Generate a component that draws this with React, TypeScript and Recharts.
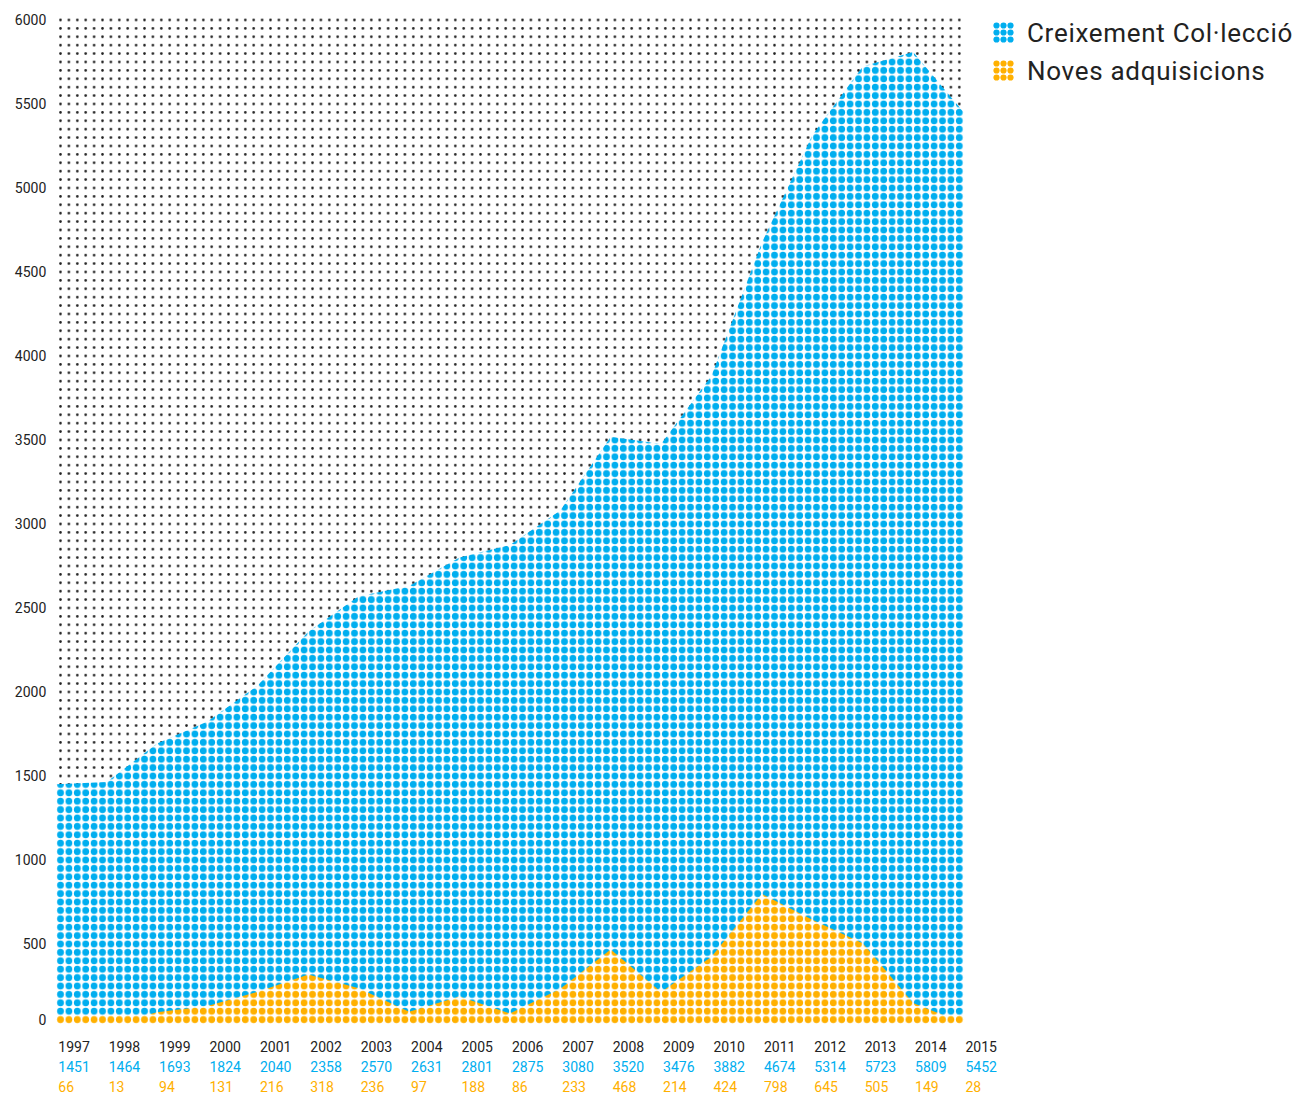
import React from "react"
import {
  AreaChart, Area, XAxis, YAxis, CartesianGrid, Legend, ReferenceArea,
} from "recharts"

const YEARS = [1997, 1998, 1999, 2000, 2001, 2002, 2003, 2004, 2005, 2006, 2007, 2008, 2009, 2010, 2011, 2012, 2013, 2014, 2015]
const COLLECTION = [1451, 1464, 1693, 1824, 2040, 2358, 2570, 2631, 2801, 2875, 3080, 3520, 3476, 3882, 4674, 5314, 5723, 5809, 5452]
const ACQUISITIONS = [66, 13, 94, 131, 216, 318, 236, 97, 188, 86, 233, 468, 214, 424, 798, 645, 505, 149, 28]
const Y_TICKS = [0, 500, 1000, 1500, 2000, 2500, 3000, 3500, 4000, 4500, 5000, 5500, 6000]

const data = YEARS.map((year, i) => ({
  year,
  total: COLLECTION[i],
  noves: ACQUISITIONS[i],
}))

const BLUE = "#00aeef"
const ORANGE = "#ffb000"
const INK = "#222222"
const FONT = "Roboto, 'Noto Sans', sans-serif"

// dot grid: one dot = 50 units, square cells
const UNIT = 50
const CELL = 8.4
const PLOT_LEFT = 56.3
const PLOT_W = CELL * 108
const PLOT_TOP = 20 - CELL / 2
const CHART_W = 1298
const CHART_H = 1094
const PLOT_H = CELL * 120
const X_AXIS_H = CHART_H - PLOT_TOP - PLOT_H

function YearTick(props: any) {
  const { x, y, payload } = props
  const i = YEARS.indexOf(payload.value)
  if (i < 0) return null
  return (
    <g>
      <text x={x + 2} y={y + 28} fill={INK} fontSize={14} fontFamily={FONT}>{payload.value}</text>
      <text x={x + 2} y={y + 48} fill={BLUE} fontSize={14} fontFamily={FONT}>{COLLECTION[i]}</text>
      <text x={x + 2} y={y + 68} fill={ORANGE} fontSize={14} fontFamily={FONT}>{ACQUISITIONS[i]}</text>
    </g>
  )
}

function ValueTick(props: any) {
  const { x, y, payload } = props
  // the zero label sits on the bottom row of dots
  const dy = payload.value === 0 ? -8 : 0
  return (
    <text x={x} y={y + dy} dy="0.355em" textAnchor="end" fill={INK} fontSize={14} fontFamily={FONT}>
      {payload.value}
    </text>
  )
}

function DotMarker({ color }: { color: string }) {
  const dots = []
  for (let r = 0; r < 3; r++)
    for (let c = 0; c < 3; c++)
      dots.push(<circle key={r * 3 + c} cx={3.5 + c * 7} cy={3.5 + r * 7} r={3.1} fill={color} />)
  return <svg width={22} height={22} style={{ display: "block" }}>{dots}</svg>
}

function LegendContent() {
  const items = [
    { label: "Creixement Col·lecció", color: BLUE },
    { label: "Noves adquisicions", color: ORANGE },
  ]
  return (
    <div style={{ fontFamily: FONT }}>
      {items.map((it) => (
        <div key={it.label} style={{ display: "flex", alignItems: "center", height: 38 }}>
          <DotMarker color={it.color} />
          <span style={{ marginLeft: 12, fontSize: 26, letterSpacing: 0.7, color: INK, whiteSpace: "nowrap" }}>{it.label}</span>
        </div>
      ))}
    </div>
  )
}

export default function App() {
  return (
    <div style={{ position: "absolute", left: 0, top: 0, background: "#fff" }}>
      <AreaChart
        width={CHART_W}
        height={CHART_H}
        data={data}
        margin={{ top: PLOT_TOP, right: CHART_W - PLOT_LEFT - PLOT_W, left: 0, bottom: 0 }}
      >
        <defs>
          <pattern id="bgDots" patternUnits="userSpaceOnUse" x={PLOT_LEFT} y={PLOT_TOP} width={CELL} height={CELL}>
            <circle cx={CELL / 2} cy={CELL / 2} r={1.3} fill={INK} />
          </pattern>
          <pattern id="blueDots" patternUnits="userSpaceOnUse" x={PLOT_LEFT} y={PLOT_TOP} width={CELL} height={CELL}>
            <rect width={CELL} height={CELL} fill="#fff" />
            <circle cx={CELL / 2} cy={CELL / 2} r={3.4} fill={BLUE} />
          </pattern>
          <pattern id="orangeDots" patternUnits="userSpaceOnUse" x={PLOT_LEFT} y={PLOT_TOP} width={CELL} height={CELL}>
            <rect width={CELL} height={CELL} fill="#fff" />
            <circle cx={CELL / 2} cy={CELL / 2} r={3.4} fill={ORANGE} />
          </pattern>
        </defs>
        <CartesianGrid horizontal={false} vertical={false} fill="url(#bgDots)" stroke="none" />
        <XAxis
          dataKey="year"
          type="number"
          domain={[1997, 2015]}
          ticks={YEARS}
          interval={0}
          axisLine={false}
          tickLine={false}
          tickSize={0}
          tickMargin={0}
          height={X_AXIS_H}
          tick={<YearTick />}
        />
        <YAxis
          type="number"
          domain={[UNIT / 2, 6000 + UNIT / 2]}
          ticks={Y_TICKS}
          interval={0}
          allowDataOverflow
          axisLine={false}
          tickLine={false}
          tickSize={0}
          tickMargin={10}
          width={PLOT_LEFT}
          tick={<ValueTick />}
        />
        <Legend
          layout="vertical"
          align="center"
          verticalAlign="middle"
          content={<LegendContent />}
          wrapperStyle={{ position: "absolute", top: 14, left: 993, width: 305 }}
        />
        <Area
          type="linear"
          dataKey="total"
          name="Creixement Col·lecció"
          baseValue="dataMin"
          stroke="none"
          fill="url(#blueDots)"
          fillOpacity={1}
          isAnimationActive={false}
        />
        {/* every year has at least one row of new acquisitions */}
        <ReferenceArea y1={UNIT / 2} y2={UNIT * 1.5} fill="url(#orangeDots)" fillOpacity={1} stroke="none" />
        <Area
          type="linear"
          dataKey="noves"
          name="Noves adquisicions"
          baseValue="dataMin"
          stroke="none"
          fill="url(#orangeDots)"
          fillOpacity={1}
          isAnimationActive={false}
        />
      </AreaChart>
    </div>
  )
}
